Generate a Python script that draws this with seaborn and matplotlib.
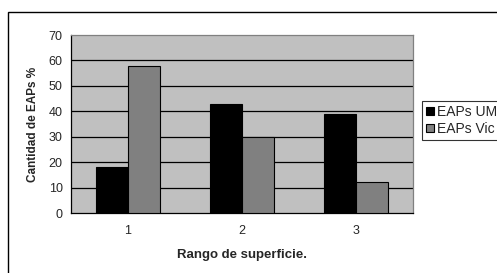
import pandas as pd
import numpy as np
import matplotlib
matplotlib.use('Agg')
import matplotlib.pyplot as plt
import seaborn as sns
from matplotlib.patches import Rectangle

# data
rangos = ['1', '2', '3']
eaps_um = [18, 43, 39]
eaps_vic = [58, 30, 12]
series = ['EAPs UM', 'EAPs Vic']

df = pd.DataFrame({
    'rango': rangos * 2,
    'valor': eaps_um + eaps_vic,
    'serie': [series[0]] * 3 + [series[1]] * 3,
})

sns.set_style('white')
plt.rcParams['font.family'] = ['Liberation Sans', 'DejaVu Sans']

fig = plt.figure(figsize=(4.97, 2.73), dpi=100)
fig.patches.append(Rectangle((8 / 497, -0.1), 1.0, 1 - 12 / 273 + 0.1,
                             transform=fig.transFigure, fill=False,
                             edgecolor='black', linewidth=1.0, zorder=0))

ax = fig.add_axes([71 / 497, 60 / 273, 342 / 497, 178 / 273])
ax.set_facecolor('#C0C0C0')

sns.barplot(data=df, x='rango', y='valor', hue='serie', ax=ax,
            palette=['black', '#808080'], edgecolor='black', linewidth=0.8,
            width=0.57, saturation=1, zorder=3)

ax.set_ylim(0, 70)
ax.set_xlim(-0.5, 2.5)
ax.set_yticks(range(0, 71, 10))
for y in range(10, 70, 10):
    ax.axhline(y, color='black', linewidth=0.9, zorder=1)

ax.set_xticks([-0.5, 0.5, 1.5, 2.5])
ax.set_xticklabels([])
ax.set_xticks([0, 1, 2], minor=True)
ax.set_xticklabels(rangos, minor=True)
ax.tick_params(axis='x', which='major', length=4, width=0.8, color='black', direction='out')
ax.tick_params(axis='x', which='minor', length=0, pad=9, labelsize=9)
ax.tick_params(axis='y', length=4, width=0.8, color='black', direction='out', labelsize=9, pad=2)

for s in ['top', 'right']:
    ax.spines[s].set_color('#808080')
    ax.spines[s].set_linewidth(0.9)
for s in ['left', 'bottom']:
    ax.spines[s].set_color('black')
    ax.spines[s].set_linewidth(0.9)

ax.set_xlabel('Rango de superficie.', fontsize=9.5, fontweight='bold', labelpad=8)
ax.set_ylabel('Cantidad de EAPs %', fontsize=8.5, fontweight='bold', labelpad=7)

leg = ax.legend(loc='upper left', bbox_to_anchor=(422 / 497, 1 - 101 / 273),
                bbox_transform=fig.transFigure, fontsize=10, frameon=True,
                fancybox=False, edgecolor='black', handlelength=0.55,
                handleheight=0.55, handletextpad=0.25, borderpad=0.3,
                labelspacing=0.2, borderaxespad=0)
leg.get_frame().set_linewidth(0.8)

fig.savefig('out.png', dpi=100)
